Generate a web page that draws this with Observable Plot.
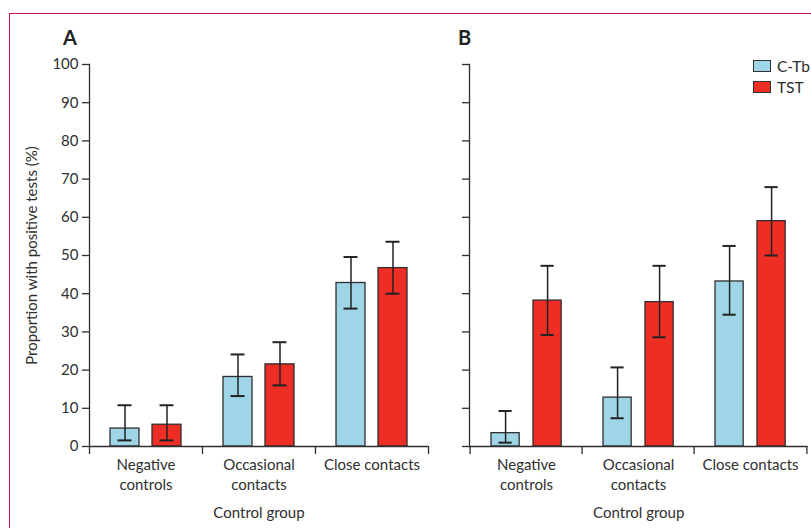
<!DOCTYPE html>
<html>
<head>
<meta charset="utf-8">
<script src="https://cdn.jsdelivr.net/npm/d3@7"></script>
<script src="https://cdn.jsdelivr.net/npm/@observablehq/plot@0.6"></script>
<style>
  html, body { margin: 0; padding: 0; background: #fff; }
  #wrap { position: relative; width: 811px; height: 528px; overflow: hidden; font-family: Lato, "DejaVu Sans", sans-serif; color: #2b2b2b; }
  #frame { position: absolute; left: 9px; top: 13px; right: -5px; bottom: -5px; border-top: 1px solid #c0174a; border-left: 1px solid #c0174a; }
  .panel { position: absolute; top: 0; }
  .plabel { position: absolute; font-weight: bold; font-size: 20px; top: 25px; color: #222; }
  .legend { position: absolute; left: 753px; top: 55px; font-size: 15.5px; }
  .legend .row { display: flex; align-items: center; height: 21px; }
  .legend .sw { width: 16px; height: 10px; border: 1.3px solid #333; margin-right: 6px; }
</style>
</head>
<body>
<div id="wrap">
  <div id="frame"></div>
  <div id="panelA" class="panel" style="left:0px"></div>
  <div id="panelB" class="panel" style="left:440px"></div>
  <div class="plabel" style="left:63px">A</div>
  <div class="plabel" style="left:458px">B</div>
  <div class="legend" id="legend"></div>
</div>
<script>
// ---- data ----
const groups = ["Negative controls", "Occasional contacts", "Close contacts"];
const groupLabels = ["Negative\ncontrols", "Occasional\ncontacts", "Close contacts"];
const tests = ["C-Tb", "TST"];
const testColors = ["#9ed5e7", "#ee2d24"];
const yTicks = [0, 10, 20, 30, 40, 50, 60, 70, 80, 90, 100];
const yLabel = "Proportion with positive tests (%)";
const xLabel = "Control group";

// Panel A
const aCTb = [4.7, 18.2, 42.8];
const aCTbLo = [1.6, 13.2, 36.1];
const aCTbHi = [10.8, 24.1, 49.6];
const aTST = [5.7, 21.5, 46.7];
const aTSTLo = [1.6, 16.0, 40.0];
const aTSTHi = [10.8, 27.3, 53.6];
// Panel B
const bCTb = [3.5, 12.8, 43.2];
const bCTbLo = [1.0, 7.4, 34.5];
const bCTbHi = [9.3, 20.7, 52.5];
const bTST = [38.2, 37.8, 59.0];
const bTSTLo = [29.2, 28.6, 50.0];
const bTSTHi = [47.3, 47.3, 67.9];

function rowsFor(series) {
  const rows = [];
  series.forEach(([v, lo, hi], ti) => {
    groups.forEach((g, gi) => rows.push({group: g, test: tests[ti], value: v[gi], lo: lo[gi], hi: hi[gi]}));
  });
  return rows;
}

const rowsA = rowsFor([[aCTb, aCTbLo, aCTbHi], [aTST, aTSTLo, aTSTHi]]);
const rowsB = rowsFor([[bCTb, bCTbLo, bCTbHi], [bTST, bTSTLo, bTSTHi]]);

const ink = "#2f2f2f";
const fontSize = 15;

function makePanel(rows, {width, marginLeft, marginRight, showLabels}) {
  const height = 528, marginTop = 64, marginBottom = 82;
  const bw = (width - marginLeft - marginRight) / groups.length;
  const barW = 29, firstInset = 21, step = 42, capHalf = 7;
  const below = -2.1; // small tick extension below baseline (in y units)
  const marks = [];
  tests.forEach((t, ti) => {
    const data = rows.filter(d => d.test === t);
    const left = firstInset + step * ti;
    const center = left + barW / 2;
    marks.push(Plot.barY(data, {
      x: "group", y: "value", fill: testColors[ti], stroke: ink, strokeWidth: 1.3,
      insetLeft: left, insetRight: bw - left - barW
    }));
    marks.push(Plot.ruleX(data, {x: "group", y1: "lo", y2: "hi", dx: center - bw / 2, stroke: "#222", strokeWidth: 1.5}));
    for (const k of ["lo", "hi"]) {
      marks.push(Plot.tickY(data, {
        x: "group", y: k, stroke: "#222", strokeWidth: 2,
        insetLeft: center - capHalf, insetRight: bw - center - capHalf
      }));
    }
  });
  // axis lines and band boundary ticks
  marks.push(Plot.ruleY([0], {stroke: ink, strokeWidth: 1.3}));
  marks.push(Plot.frame({anchor: "left", stroke: ink, strokeWidth: 1.3}));
  marks.push(Plot.ruleX(groups, {x: d => d, y1: 0, y2: below, dx: -bw / 2, stroke: ink, strokeWidth: 1.3}));
  marks.push(Plot.ruleX(groups.slice(-1), {x: d => d, y1: 0, y2: below, dx: bw / 2, stroke: ink, strokeWidth: 1.3}));
  // y axis
  marks.push(Plot.axisY({
    ticks: yTicks, tickSize: 7, tickPadding: 4, label: null, stroke: ink, strokeWidth: 1.3,
    tickFormat: showLabels ? d => String(d) : () => "", fill: ink
  }));
  if (showLabels) {
    marks.push(Plot.text([yLabel], {frameAnchor: "left", textAnchor: "middle", rotate: -90, dx: -57, fill: ink}));
  }
  // group labels
  marks.push(Plot.text(groups, {
    x: d => d, text: (d, i) => groupLabels[i], frameAnchor: "bottom", lineAnchor: "top",
    dy: 9, lineHeight: 1.33, fill: ink
  }));
  marks.push(Plot.text([xLabel], {frameAnchor: "bottom", lineAnchor: "top", dy: 61, fill: ink}));

  return Plot.plot({
    width, height, marginTop, marginBottom, marginLeft, marginRight,
    style: {fontFamily: "Lato, 'DejaVu Sans', sans-serif", fontSize: fontSize + "px", background: "transparent", overflow: "visible", color: ink},
    x: {type: "band", domain: groups, padding: 0, axis: null},
    y: {domain: [0, 100], axis: null},
    marks
  });
}

document.getElementById("panelA").appendChild(makePanel(rowsA, {width: 440, marginLeft: 89, marginRight: 12, showLabels: true}));
document.getElementById("panelB").appendChild(makePanel(rowsB, {width: 371, marginLeft: 29, marginRight: 3.5, showLabels: false}));

const legend = document.getElementById("legend");
tests.forEach((t, i) => {
  const row = document.createElement("div");
  row.className = "row";
  const sw = document.createElement("div");
  sw.className = "sw";
  sw.style.background = testColors[i];
  const lab = document.createElement("span");
  lab.textContent = t;
  row.appendChild(sw);
  row.appendChild(lab);
  legend.appendChild(row);
});
</script>
</body>
</html>
